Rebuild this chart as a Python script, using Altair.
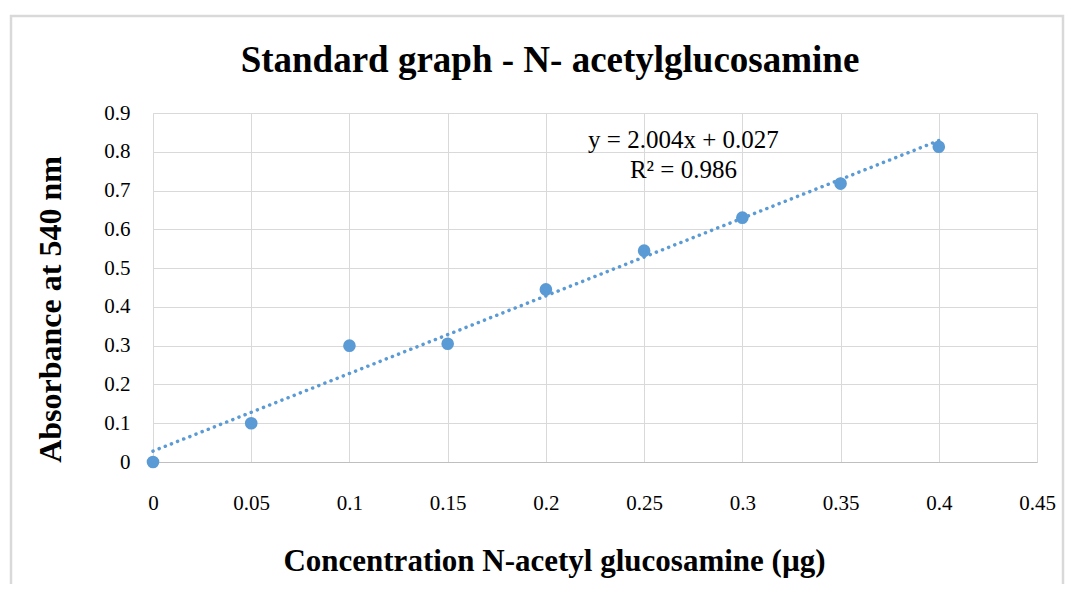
import altair as alt
import pandas as pd

conc = [0, 0.05, 0.1, 0.15, 0.2, 0.25, 0.3, 0.35, 0.4]
absorb = [0, 0.1, 0.3, 0.305, 0.445, 0.545, 0.63, 0.718, 0.813]
x_ticks = [0, 0.05, 0.1, 0.15, 0.2, 0.25, 0.3, 0.35, 0.4, 0.45]
y_ticks = [0, 0.1, 0.2, 0.3, 0.4, 0.5, 0.6, 0.7, 0.8, 0.9]
ann_text = ["y = 2.004x + 0.027", "R² = 0.986"]
ann_x = [0.27, 0.27]
ann_y = [0.83, 0.753]
title_text = ["Standard graph - N- acetylglucosamine"]

df = pd.DataFrame({"x": conc, "y": absorb})
ann = pd.DataFrame({"t": ann_text, "x": ann_x, "y": ann_y})

BLUE = "#5b9bd5"
FONT = "Liberation Serif"

xs = alt.Scale(domain=[0, 0.45], nice=False, zero=False)
ys = alt.Scale(domain=[0, 0.9], nice=False, zero=False)

xaxis = alt.Axis(values=x_ticks, format=".2~f", title="Concentration N-acetyl glucosamine (µg)",
                 labelPadding=30, titlePadding=33, ticks=False, domainColor="#bfbfbf",
                 gridColor="#d9d9d9", labelFontSize=21, titleFontSize=31, labelFont=FONT,
                 titleFont=FONT, titleFontWeight="bold", labelColor="#000", titleColor="#000",
                 labelOverlap=False, labelFlush=False, titleX=401, titleAnchor="start",
                 titleAlign="center")
yaxis = alt.Axis(values=y_ticks, format=".1~f", title="Absorbance at 540 nm",
                 labelPadding=23, titlePadding=36, ticks=False, domainColor="#d9d9d9",
                 gridColor="#d9d9d9", labelFontSize=21, titleFontSize=32, labelFont=FONT,
                 titleFont=FONT, titleFontWeight="bold", labelColor="#000", titleColor="#000",
                 labelOverlap=False, labelFlush=False, titleY=196, titleAnchor="start",
                 titleAlign="center")

frame = alt.Chart(pd.DataFrame({"a": [0]})).mark_rect(
    fill="transparent", stroke="#d9d9d9", strokeWidth=2.5, clip=False
).encode(x=alt.value(-142), x2=alt.value(910), y=alt.value(-97), y2=alt.value(600))

title = alt.Chart(pd.DataFrame({"t": title_text})).mark_text(
    font=FONT, fontSize=37, fontWeight="bold", color="#000", clip=False
).encode(x=alt.value(397), y=alt.value(-52), text="t:N")

points = alt.Chart(df).mark_circle(size=160, color=BLUE, opacity=1).encode(
    x=alt.X("x:Q", scale=xs, axis=xaxis),
    y=alt.Y("y:Q", scale=ys, axis=yaxis),
)

trend = alt.Chart(df).transform_regression("x", "y", extent=[0, 0.4]).mark_line(
    color=BLUE, strokeWidth=3.5, strokeDash=[0.1, 6.5], strokeCap="round"
).encode(x=alt.X("x:Q", scale=xs, axis=xaxis), y=alt.Y("y:Q", scale=ys, axis=yaxis))

labels = alt.Chart(ann).mark_text(font=FONT, fontSize=25, color="#000").encode(
    x=alt.X("x:Q", scale=xs, axis=xaxis), y=alt.Y("y:Q", scale=ys, axis=yaxis), text="t:N"
)

chart = alt.layer(frame, title, trend, points, labels).properties(
    width=884, height=349,
    padding={"left": 145, "top": 105, "right": 28, "bottom": 122},
    autosize=alt.AutoSizeParams(type="none"),
).configure_view(stroke=None)

chart.save("out.html", embed_options={"renderer": "svg", "actions": False})
